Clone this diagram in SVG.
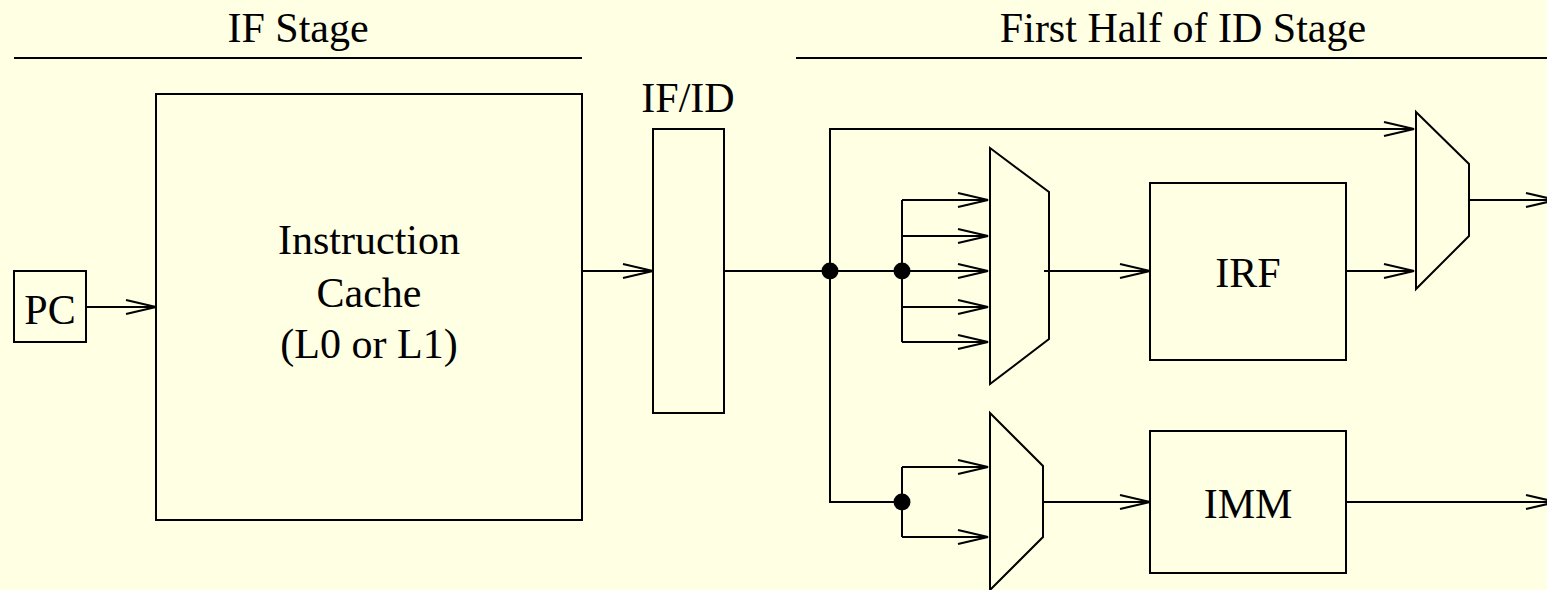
<svg xmlns="http://www.w3.org/2000/svg" width="1547" height="590" viewBox="0 0 1547 590" font-family="'Liberation Serif', 'Times New Roman', Times, serif">
<style>
.bg{fill:#ffffe4}
.box{fill:none;stroke:#000;stroke-width:2}
.ln{fill:none;stroke:#000;stroke-width:2}
.arr{marker-end:url(#ah)}
.dot{fill:#000}
text{font-family:'Liberation Serif','Times New Roman',Times,serif;font-size:42px;fill:#000;text-anchor:middle}
</style>
<defs>
<marker id="ah" markerUnits="userSpaceOnUse" markerWidth="34" markerHeight="18" refX="31" refY="9" orient="auto" overflow="visible">
<path d="M1,2 L31,9 L1,16" fill="none" stroke="#000" stroke-width="2"/>
</marker>
</defs>
<rect class="bg" x="0" y="0" width="1547" height="590"/>
<g id="headers">
<text x="298" y="42">IF Stage</text>
<line class="ln" x1="14" y1="58" x2="582" y2="58"/>
<text x="1183" y="42">First Half of ID Stage</text>
<line class="ln" x1="796" y1="58" x2="1547" y2="58"/>
</g>
<g id="pc">
<rect class="box" x="14" y="271" width="72" height="71"/>
<text x="50" y="324">PC</text>
</g>
<g id="icache">
<rect class="box" x="156" y="94" width="426" height="426"/>
<text x="369" y="254">Instruction</text>
<text x="369" y="307">Cache</text>
<text x="369" y="358">(L0 or L1)</text>
</g>
<g id="ifid">
<text x="688" y="112">IF/ID</text>
<rect class="box" x="653" y="129" width="71" height="284"/>
</g>
<g id="mux1"><path class="box" d="M990,148 L1049,192 L1049,339 L990,384 Z"/></g>
<g id="mux2"><path class="box" d="M1416,112 L1469,164 L1469,236 L1416,289 Z"/></g>
<g id="mux3"><path class="box" d="M990,413 L1043,466 L1043,537 L990,590 Z"/></g>
<g id="irf">
<rect class="box" x="1150" y="183" width="196" height="177"/>
<text x="1248" y="287">IRF</text>
</g>
<g id="imm">
<rect class="box" x="1150" y="431" width="196" height="142"/>
<text x="1248" y="518">IMM</text>
</g>
<g id="connectors">
<line class="ln arr" x1="86" y1="307" x2="156" y2="307"/>
<line class="ln arr" x1="582" y1="271" x2="653" y2="271"/>
<line class="ln arr" x1="724" y1="271" x2="988" y2="271"/>
<line class="ln" x1="902" y1="200" x2="902" y2="342"/>
<line class="ln arr" x1="902" y1="200" x2="988" y2="200"/>
<line class="ln arr" x1="902" y1="236" x2="988" y2="236"/>
<line class="ln arr" x1="902" y1="307" x2="988" y2="307"/>
<line class="ln arr" x1="902" y1="342" x2="988" y2="342"/>
<polyline class="ln arr" points="830,271 830,129 1414,129"/>
<polyline class="ln" points="830,271 830,502 902,502"/>
<line class="ln" x1="902" y1="467" x2="902" y2="537"/>
<line class="ln arr" x1="902" y1="467" x2="988" y2="467"/>
<line class="ln arr" x1="902" y1="537" x2="988" y2="537"/>
<line class="ln arr" x1="1044" y1="271" x2="1150" y2="271"/>
<line class="ln arr" x1="1346" y1="271" x2="1414" y2="271"/>
<line class="ln arr" x1="1469" y1="200" x2="1556" y2="200"/>
<line class="ln arr" x1="1043" y1="502" x2="1150" y2="502"/>
<line class="ln arr" x1="1346" y1="502" x2="1556" y2="502"/>
<circle class="dot" cx="830" cy="271" r="8.5"/>
<circle class="dot" cx="902" cy="271" r="8.5"/>
<circle class="dot" cx="902" cy="502" r="8.5"/>
</g>
</svg>
